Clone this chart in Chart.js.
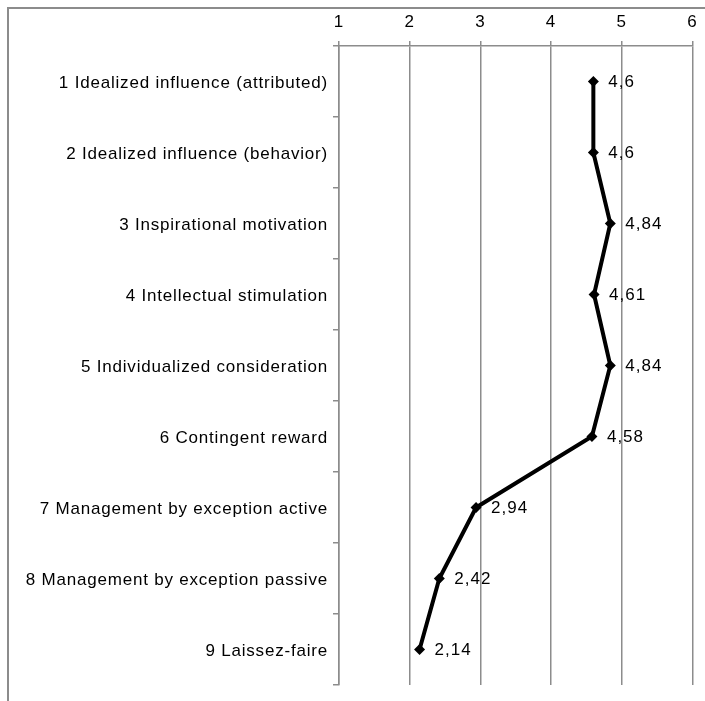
<!DOCTYPE html>
<html>
<head>
<meta charset="utf-8">
<script src="https://cdn.jsdelivr.net/npm/chart.js@4"></script>
<style>
  html, body { margin: 0; padding: 0; background: #fff; }
  #wrap { position: relative; width: 705px; height: 701px; }
  #frame {
    position: absolute; left: 7px; top: 7px; right: -2px; bottom: -2px;
    border-top: 2px solid #8c8c8c; border-left: 2px solid #8c8c8c;
  }
  canvas { position: absolute; left: 0; top: 0; }
</style>
</head>
<body>
<div id="wrap">
  <div id="frame"></div>
  <canvas id="myChart" width="705" height="701"></canvas>
</div>
<script>
const categories = [
  "1 Idealized influence (attributed)",
  "2 Idealized influence (behavior)",
  "3 Inspirational motivation",
  "4 Intellectual stimulation",
  "5 Individualized consideration",
  "6 Contingent reward",
  "7 Management by exception active",
  "8 Management by exception passive",
  "9 Laissez-faire",
];
const scores = [4.6, 4.6, 4.84, 4.61, 4.84, 4.58, 2.94, 2.42, 2.14];
const scoreLabels = ["4,6", "4,6", "4,84", "4,61", "4,84", "4,58", "2,94", "2,42", "2,14"];
const xTicks = [1, 2, 3, 4, 5, 6];

const fontFamily = "'Liberation Sans', Arial, sans-serif";
const gridColor = "#8c8c8c";

// the original text is set a little wider than plain Arial
const spacing = {
  id: "spacing",
  beforeDraw(chart) {
    chart.ctx.letterSpacing = "0.8px";
  },
};

const valueLabels = {
  id: "valueLabels",
  afterDatasetsDraw(chart) {
    const ctx = chart.ctx;
    const meta = chart.getDatasetMeta(0);
    ctx.save();
    ctx.letterSpacing = "1px";
    ctx.font = "17px " + fontFamily;
    ctx.fillStyle = "#000";
    ctx.textAlign = "left";
    ctx.textBaseline = "middle";
    meta.data.forEach((pt, i) => {
      ctx.fillText(scoreLabels[i], pt.x + 15, pt.y + 1);
    });
    ctx.restore();
  },
};

const ctx = document.getElementById("myChart").getContext("2d");
new Chart(ctx, {
  type: "line",
  data: {
    labels: categories,
    datasets: [
      {
        data: scores,
        borderColor: "#000",
        backgroundColor: "#000",
        borderWidth: 4,
        pointStyle: "rectRot",
        pointRadius: 5.5,
        pointBorderWidth: 0,
        tension: 0,
      },
    ],
  },
  options: {
    responsive: false,
    animation: false,
    indexAxis: "y",
    layout: { padding: { left: 0, right: 12, top: 0, bottom: 16 } },
    plugins: {
      legend: { display: false },
      tooltip: { enabled: false },
    },
    scales: {
      x: {
        type: "linear",
        position: "top",
        min: 1,
        max: 6,
        afterBuildTicks(scale) {
          scale.ticks = xTicks.map((v) => ({ value: v }));
        },
        afterFit(scale) {
          scale.height = 46;
        },
        grid: {
          color: gridColor,
          lineWidth: 1.5,
          tickLength: 5,
          drawOnChartArea: true,
        },
        border: { color: gridColor, width: 1.5 },
        ticks: {
          color: "#000",
          padding: 8,
          font: { family: fontFamily, size: 17 },
        },
      },
      y: {
        type: "category",
        offset: true,
        afterFit(scale) {
          scale.width = 339;
        },
        grid: {
          offset: true,
          drawOnChartArea: false,
          color: gridColor,
          lineWidth: 1.5,
          tickLength: 6,
        },
        border: { color: gridColor, width: 1.5 },
        ticks: {
          color: "#000",
          padding: 5,
          labelOffset: 2,
          autoSkip: false,
          font: { family: fontFamily, size: 17 },
        },
      },
    },
  },
  plugins: [spacing, valueLabels],
});
</script>
</body>
</html>
